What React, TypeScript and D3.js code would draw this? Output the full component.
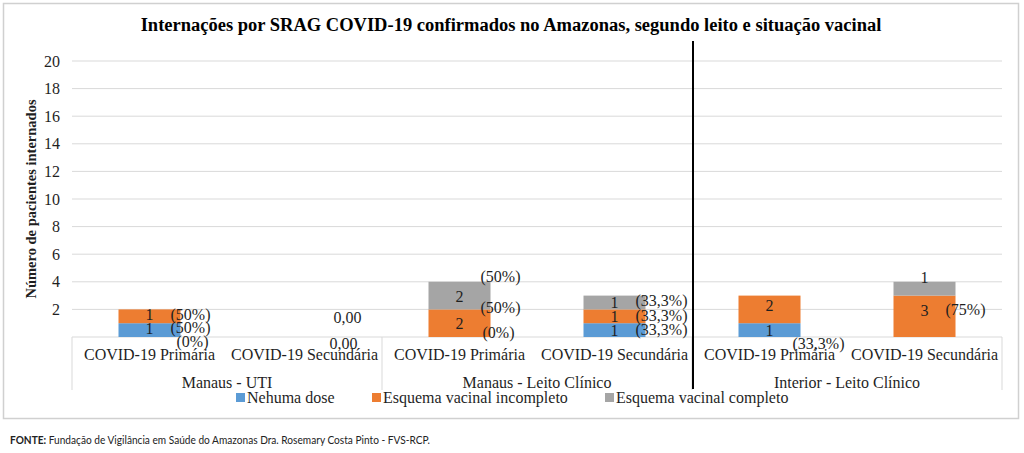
import React from "react";
import * as d3 from "d3";

// categories
const groups = ["Manaus - UTI", "Manaus - Leito Clínico", "Interior - Leito Clínico"];
const beds = ["COVID-19 Primária", "COVID-19 Secundária"];
const seriesNames = ["Nehuma dose", "Esquema vacinal incompleto", "Esquema vacinal completo"];

// values per category (group x bed)
const nenhumaDose = [1, 0, 0, 1, 1, 0];
const incompleto = [1, 0, 2, 1, 2, 3];
const completo = [0, 0, 2, 1, 0, 1];

// percentage labels as printed
const pctNenhuma = ["(50%)", "0,00", "(0%)", "(33,3%)", "(33,3%)", ""];
const pctIncompleto = ["(50%)", "0,00", "(50%)", "(33,3%)", "", "(75%)"];
const pctCompleto = ["(0%)", "", "(50%)", "(33,3%)", "", ""];

const yTicks = [2, 4, 6, 8, 10, 12, 14, 16, 18, 20];

// label nudges in px [dx, dy], per series then category (layout only)
const pctNudge = [
  [[0, -3], [4, 6], [2, -5], [0, -1], [2, 13], [0, 0]],
  [[0, -2], [8, -20], [0, -16], [0, -1], [0, 0], [0, -7]],
  [[6, 32], [0, 0], [0, -19], [0, -2], [0, 0], [0, 0]],
];
const valueNudge = [
  [-1.5, 0, 0, 0, 0, 0],
  [-2, 0, 0, 0, -4, -6],
  [0, 0, 1, 0, 0, -11],
];

const colors = ["#5B9BD5", "#ED7D31", "#A5A5A5"];
const W = 1024;
const H = 453;
const plot = { left: 72, right: 1002, top: 61, bottom: 337 };
const serif = "'Liberation Serif', 'Times New Roman', serif";
const ink = "#1f1f1f";

export default function App() {
  const cats = d3.range(groups.length * beds.length);
  const x = d3
    .scaleBand<number>()
    .domain(cats)
    .range([plot.left, plot.right])
    .paddingInner(0.6)
    .paddingOuter(0.3);
  const y = d3.scaleLinear().domain([0, 20]).range([plot.bottom, plot.top]);

  const rows = cats.map((i) => ({ i, a: nenhumaDose[i], b: incompleto[i], c: completo[i] }));
  const stacked = d3.stack<{ i: number; a: number; b: number; c: number }>().keys(["a", "b", "c"])(rows);
  const pcts = [pctNenhuma, pctIncompleto, pctCompleto];

  const step = x.step();
  const groupW = step * beds.length;
  const tableBottom = 390;

  return (
    <svg width={W} height={H} style={{ position: "absolute", left: 0, top: 0 }} fontFamily={serif}>
      <rect x={0} y={0} width={W} height={H} fill="#fff" />
      <rect x={3.5} y={3.5} width={1015} height={415} fill="#fff" stroke="#d0d0d0" strokeWidth={1.5} />

      <text x={511} y={31} textAnchor="middle" fontSize={18.5} fontWeight="bold" fill="#000">
        Internações por SRAG COVID-19 confirmados no Amazonas, segundo leito e situação vacinal
      </text>

      {/* grid */}
      {yTicks.map((t) => (
        <g key={t}>
          <line x1={plot.left} x2={plot.right} y1={y(t)} y2={y(t)} stroke="#d9d9d9" strokeWidth={1} />
          <text x={60} y={y(t)} dy="0.35em" textAnchor="end" fontSize={16} fill={ink}>
            {t}
          </text>
        </g>
      ))}

      <text
        transform={`translate(31,${(61 + 337) / 2}) rotate(-90)`}
        textAnchor="middle"
        dy="0.35em"
        fontSize={14.5}
        fontWeight="bold"
        fill={ink}
      >
        Número de pacientes internados
      </text>

      {/* category table */}
      <line x1={plot.left} x2={plot.right} y1={plot.bottom} y2={plot.bottom} stroke="#d9d9d9" />
      {d3.range(groups.length + 1).map((g) => (
        <line
          key={g}
          x1={plot.left + g * groupW}
          x2={plot.left + g * groupW}
          y1={plot.bottom}
          y2={tableBottom}
          stroke="#d9d9d9"
        />
      ))}
      {cats.map((i) => (
        <text key={i} x={x(i)! + x.bandwidth() / 2} y={360} textAnchor="middle" fontSize={16} fill={ink}>
          {beds[i % beds.length]}
        </text>
      ))}
      {groups.map((g, gi) => (
        <text key={g} x={plot.left + gi * groupW + groupW / 2} y={388} textAnchor="middle" fontSize={16} fill={ink}>
          {g}
        </text>
      ))}

      {/* bars */}
      {stacked.map((s, si) =>
        s.map((d, i) =>
          d[1] > d[0] ? (
            <rect
              key={`${si}-${i}`}
              x={x(i)!}
              y={y(d[1])}
              width={x.bandwidth()}
              height={y(d[0]) - y(d[1])}
              fill={colors[si]}
            />
          ) : null
        )
      )}

      {/* value labels */}
      {stacked.map((s, si) =>
        s.map((d, i) =>
          d[1] > d[0] ? (
            <text
              key={`v${si}-${i}`}
              x={x(i)! + x.bandwidth() / 2}
              y={y((d[0] + d[1]) / 2) + valueNudge[si][i]}
              dy="0.35em"
              textAnchor="middle"
              fontSize={16}
              fill={ink}
            >
              {d[1] - d[0]}
            </text>
          ) : null
        )
      )}

      {/* percentage labels */}
      {stacked.map((s, si) =>
        s.map((d, i) =>
          pcts[si][i] ? (
            <text
              key={`p${si}-${i}`}
              x={x(i)! + x.bandwidth() - 10 + pctNudge[si][i][0]}
              y={y((d[0] + d[1]) / 2) + pctNudge[si][i][1]}
              dy="0.35em"
              fontSize={16}
              fill={ink}
            >
              {pcts[si][i]}
            </text>
          ) : null
        )
      )}

      {/* separator */}
      <line x1={693} x2={693} y1={41} y2={389} stroke="#000" strokeWidth={2} />

      {/* legend */}
      {seriesNames.map((n, si) => {
        const lx = [236, 372, 605][si];
        return (
          <g key={n}>
            <rect x={lx} y={393} width={9} height={9} fill={colors[si]} />
            <text x={lx + 11} y={403} fontSize={16} fill={ink}>
              {n}
            </text>
          </g>
        );
      })}

      <text
        x={10}
        y={444}
        fontFamily="Lato, 'Open Sans', sans-serif"
        fontSize={11.5}
        fill="#222"
        textLength={420}
        lengthAdjust="spacingAndGlyphs"
      >
        <tspan fontWeight="bold">FONTE:</tspan> Fundação de Vigilância em Saúde do Amazonas Dra. Rosemary Costa Pinto - FVS-RCP.
      </text>
    </svg>
  );
}
